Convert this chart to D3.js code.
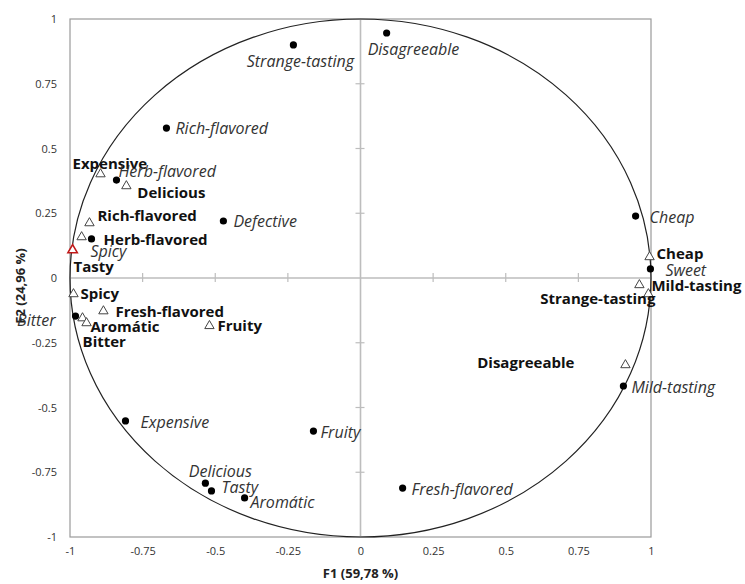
<!DOCTYPE html>
<html>
<head>
<meta charset="utf-8">
<script src="https://cdn.jsdelivr.net/npm/d3@7"></script>
<style>
  html, body { margin: 0; padding: 0; background: #fff; }
  svg { display: block; font-family: "Open Sans", sans-serif; }
</style>
</head>
<body>
<div id="chart"></div>
<script>
// attribute loadings (triangles, bold labels)
var triNames = ['Expensive', 'Delicious', 'Rich-flavored', 'Herb-flavored', 'Tasty', 'Spicy',
  'Fresh-flavored', 'Aromátic', 'Bitter', 'Fruity', 'Cheap', 'Mild-tasting', 'Strange-tasting', 'Disagreeable'];
var triF1 = [-0.895, -0.806, -0.933, -0.960, -0.991, -0.988, -0.885, -0.957, -0.943, -0.520, 0.995, 0.960, 0.991, 0.912];
var triF2 = [0.405, 0.359, 0.216, 0.162, 0.112, -0.058, -0.124, -0.151, -0.170, -0.181, 0.085, -0.023, -0.058, -0.332];

// second set (dots, italic labels)
var dotNames = ['Strange-tasting', 'Disagreeable', 'Rich-flavored', 'Herb-flavored', 'Defective', 'Spicy',
  'Cheap', 'Sweet', 'Mild-tasting', 'Fresh-flavored', 'Fruity', 'Expensive', 'Delicious', 'Tasty', 'Aromátic', 'Bitter'];
var dotF1 = [-0.231, 0.090, -0.668, -0.840, -0.472, -0.926, 0.947, 0.998, 0.905, 0.145, -0.162, -0.809, -0.534, -0.513, -0.399, -0.981];
var dotF2 = [0.900, 0.946, 0.579, 0.378, 0.220, 0.151, 0.239, 0.035, -0.417, -0.811, -0.591, -0.552, -0.792, -0.822, -0.849, -0.147];

var tickValues = [-1, -0.75, -0.5, -0.25, 0, 0.25, 0.5, 0.75, 1];
var xTitle = 'F1 (59,78 %)';
var yTitle = 'F2 (24,96 %)';

// label placement (layout only): [dx, dy, anchor]
var triLabelPos = {
  'Expensive': [-28, -10, 'start'], 'Delicious': [11, 7, 'start'], 'Rich-flavored': [8, -7, 'start'],
  'Herb-flavored': [22, 3, 'start'], 'Tasty': [1, 17, 'start'], 'Spicy': [7, 0, 'start'],
  'Fresh-flavored': [12, 1, 'start'], 'Aromátic': [8, 9, 'start'], 'Bitter': [-4, 19, 'start'],
  'Fruity': [8, 0, 'start'], 'Cheap': [7, -3, 'start'], 'Mild-tasting': [12, 1, 'start'],
  'Strange-tasting': [7, 5, 'end'], 'Disagreeable': [-51, -2, 'end']
};
var dotLabelPos = {
  'Strange-tasting': [7, 16, 'middle'], 'Disagreeable': [-19, 16, 'start'], 'Rich-flavored': [9, 0, 'start'],
  'Herb-flavored': [2, -9, 'start'], 'Defective': [10, 0, 'start'], 'Spicy': [-1, 12, 'start'],
  'Cheap': [14, 1, 'start'], 'Sweet': [15, 1, 'start'], 'Mild-tasting': [8, 1, 'start'],
  'Fresh-flavored': [9, 1, 'start'], 'Fruity': [7, 1, 'start'], 'Expensive': [15, 1, 'start'],
  'Delicious': [15, -12, 'middle'], 'Tasty': [10, -4, 'start'], 'Aromátic': [6, 4, 'start'],
  'Bitter': [-20, 4, 'end']
};

var width = 745, height = 584;
var plotLeft = 70, plotRight = 651, plotTop = 19, plotBottom = 537;

var x = d3.scaleLinear().domain([-1, 1]).range([plotLeft, plotRight]);
var y = d3.scaleLinear().domain([-1, 1]).range([plotBottom, plotTop]);

var svg = d3.select('#chart').append('svg')
  .attr('width', width)
  .attr('height', height);

// frame
svg.append('rect')
  .attr('x', plotLeft).attr('y', plotTop)
  .attr('width', plotRight - plotLeft).attr('height', plotBottom - plotTop)
  .attr('fill', 'none')
  .attr('stroke', '#9a9a9a')
  .attr('stroke-width', 1.2);

// zero lines
svg.append('line')
  .attr('x1', plotLeft).attr('x2', plotRight)
  .attr('y1', y(0)).attr('y2', y(0))
  .attr('stroke', '#bdbdbd').attr('stroke-width', 1.6);
svg.append('line')
  .attr('x1', x(0)).attr('x2', x(0))
  .attr('y1', plotTop).attr('y2', plotBottom)
  .attr('stroke', '#bdbdbd').attr('stroke-width', 1.6);

// small ticks on the zero lines
var inner = tickValues.filter(d => d !== 0 && Math.abs(d) !== 1);
svg.selectAll('.xt').data(inner).enter().append('line')
  .attr('x1', d => x(d)).attr('x2', d => x(d))
  .attr('y1', y(0) - 5).attr('y2', y(0) + 4)
  .attr('stroke', '#bdbdbd').attr('stroke-width', 1.2);
svg.selectAll('.yt').data(inner).enter().append('line')
  .attr('x1', x(0) - 5).attr('x2', x(0) + 4)
  .attr('y1', d => y(d)).attr('y2', d => y(d))
  .attr('stroke', '#bdbdbd').attr('stroke-width', 1.2);

// tick labels
var fmt = d => String(d);
var xAxis = svg.append('g')
  .attr('transform', `translate(0,${plotBottom})`)
  .call(d3.axisBottom(x).tickValues(tickValues).tickFormat(fmt).tickSize(0).tickPadding(10));
var yAxis = svg.append('g')
  .attr('transform', `translate(${plotLeft},0)`)
  .call(d3.axisLeft(y).tickValues(tickValues).tickFormat(fmt).tickSize(0).tickPadding(13));
[xAxis, yAxis].forEach(g => {
  g.select('.domain').remove();
  g.selectAll('text')
    .attr('font-family', '"Open Sans", sans-serif')
    .attr('font-size', 11)
    .attr('fill', '#333');
});

// axis titles
svg.append('text')
  .attr('x', x(0)).attr('y', 578)
  .attr('text-anchor', 'middle')
  .attr('font-size', 13).attr('font-weight', 'bold').attr('fill', '#222')
  .text(xTitle);
svg.append('text')
  .attr('transform', `translate(25,${y(0) + 8}) rotate(-90)`)
  .attr('text-anchor', 'middle')
  .attr('font-size', 13).attr('font-weight', 'bold').attr('fill', '#222')
  .text(yTitle);

// correlation circle
svg.append('ellipse')
  .attr('cx', x(0)).attr('cy', y(0))
  .attr('rx', x(1) - x(0)).attr('ry', y(0) - y(1))
  .attr('fill', 'none')
  .attr('stroke', '#222')
  .attr('stroke-width', 1.2);

var tris = triNames.map((n, i) => ({ name: n, f1: triF1[i], f2: triF2[i] }));
var dots = dotNames.map((n, i) => ({ name: n, f1: dotF1[i], f2: dotF2[i] }));

// triangles
var tri = d3.symbol().type(d3.symbolTriangle).size(38);
svg.selectAll('.tri').data(tris).enter().append('path')
  .attr('d', tri)
  .attr('transform', d => `translate(${x(d.f1)},${y(d.f2) + 1})`)
  .attr('fill', '#fff')
  .attr('stroke', d => d.name === 'Tasty' ? '#c01818' : '#444')
  .attr('stroke-width', d => d.name === 'Tasty' ? 1.6 : 1);

// dots
svg.selectAll('.dot').data(dots).enter().append('circle')
  .attr('cx', d => x(d.f1))
  .attr('cy', d => y(d.f2))
  .attr('r', 3.6)
  .attr('fill', '#000');

// labels
svg.selectAll('.tlab').data(tris).enter().append('text')
  .attr('x', d => x(d.f1) + triLabelPos[d.name][0])
  .attr('y', d => y(d.f2) + triLabelPos[d.name][1])
  .attr('text-anchor', d => triLabelPos[d.name][2])
  .attr('dominant-baseline', 'central')
  .attr('font-size', 15)
  .attr('font-weight', 'bold')
  .attr('fill', '#111')
  .text(d => d.name);

svg.selectAll('.dlab').data(dots).enter().append('text')
  .attr('x', d => x(d.f1) + dotLabelPos[d.name][0])
  .attr('y', d => y(d.f2) + dotLabelPos[d.name][1])
  .attr('text-anchor', d => dotLabelPos[d.name][2])
  .attr('dominant-baseline', 'central')
  .attr('font-size', 16)
  .attr('font-style', 'italic')
  .attr('fill', '#333')
  .text(d => d.name);
</script>
</body>
</html>
